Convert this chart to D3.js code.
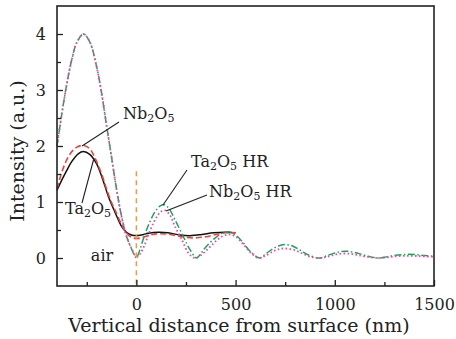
<!DOCTYPE html>
<html>
<head>
<meta charset="utf-8">
<script src="https://cdn.jsdelivr.net/npm/d3@7"></script>
<style>
  body { margin: 0; background: #fff; }
  svg text { font-family: "DejaVu Serif", serif; fill: #222; }
</style>
</head>
<body>
<svg width="456" height="339"></svg>
<script>
// values: [distance (nm), intensity (a.u.)]
const ta2o5 = [[-400,1.21],[-376,1.39],[-350,1.57],[-326,1.72],[-293,1.86],[-267,1.9],[-235,1.85],[-200,1.68],
  [-175,1.46],[-141,1.10],[-108,0.82],[-74,0.56],[-50,0.46],[-25,0.41],[0,0.40],[25,0.41],[60,0.44],[110,0.46],
  [160,0.45],[220,0.41],[279,0.40],[330,0.42],[390,0.45],[447,0.46],[500,0.45]];

const nb2o5 = [[-400,1.24],[-375,1.54],[-350,1.76],[-325,1.9],[-300,1.98],[-267,2.01],[-235,1.95],[-208,1.78],
  [-175,1.5],[-150,1.23],[-125,0.99],[-108,0.86],[-75,0.6],[-50,0.45],[-25,0.37],[0,0.35],[25,0.36],[50,0.39],
  [100,0.43],[150,0.43],[200,0.40],[250,0.37],[300,0.36],[350,0.38],[400,0.42],[450,0.45],[500,0.45]];

const ta2o5HR = [[-400,2.0],[-375,2.59],[-350,3.12],[-325,3.55],[-300,3.85],[-267,4.0],[-235,3.86],[-200,3.41],
  [-175,2.94],[-150,2.36],[-125,1.80],[-100,1.23],[-75,0.75],[-49,0.38],[-24,0.16],[-7,0.03],[0,0.0],[18,0.15],
  [35,0.34],[60,0.58],[93,0.82],[120,0.93],[141,0.95],[165,0.88],[195,0.68],[237,0.38],[270,0.15],[304,0.0],
  [325,0.08],[346,0.18],[388,0.33],[430,0.44],[465,0.47],[500,0.41],[539,0.27],[573,0.12],[623,0.0],[650,0.07],
  [690,0.17],[720,0.22],[755,0.24],[790,0.21],[830,0.13],[870,0.05],[925,0.0],[960,0.04],[1000,0.09],[1030,0.115],
  [1063,0.12],[1100,0.10],[1140,0.06],[1180,0.02],[1228,0.0],[1260,0.02],[1300,0.045],[1340,0.06],[1370,0.065],
  [1410,0.06],[1450,0.045],[1500,0.03]];

const nb2o5HR = [[-400,2.0],[-375,2.59],[-350,3.12],[-325,3.55],[-300,3.85],[-267,4.0],[-235,3.86],[-200,3.41],
  [-175,2.94],[-150,2.36],[-125,1.80],[-100,1.23],[-75,0.75],[-49,0.38],[-24,0.17],[-5,0.04],[5,0.02],[20,0.08],
  [40,0.22],[70,0.5],[100,0.72],[125,0.83],[145,0.85],[170,0.76],[195,0.56],[229,0.33],[262,0.09],[295,0.0],
  [325,0.05],[360,0.16],[400,0.3],[435,0.39],[470,0.42],[505,0.37],[540,0.24],[575,0.1],[615,0.0],[650,0.04],
  [690,0.12],[720,0.16],[749,0.17],[790,0.15],[830,0.09],[870,0.03],[920,0.0],[960,0.02],[1000,0.06],[1051,0.08],
  [1100,0.065],[1150,0.03],[1220,0.0],[1260,0.01],[1300,0.03],[1360,0.04],[1420,0.035],[1500,0.02]];

const xMajorTicks = [0, 500, 1000, 1500];
const xMinorTicks = [-250, 250, 750, 1250];
const yMajorTicks = [0, 1, 2, 3, 4];
const yMinorTicks = [0.5, 1.5, 2.5, 3.5];

const svg = d3.select('svg');
const margin = { top: 6, right: 22, bottom: 53, left: 57 };
const width = 456 - margin.left - margin.right;
const height = 339 - margin.top - margin.bottom;

const x = d3.scaleLinear().domain([-400, 1500]).range([0, width]);
const y = d3.scaleLinear().domain([-0.5, 4.5]).range([height, 0]);

const g = svg.append('g').attr('transform', `translate(${margin.left},${margin.top})`);

const line = d3.line()
  .x(d => x(d[0]))
  .y(d => y(d[1]))
  .curve(d3.curveCatmullRom.alpha(0.5));

const series = [
  { data: ta2o5, color: '#111', dash: null, w: 1.5 },
  { data: nb2o5, color: '#e8453c', dash: '6 3', w: 1.6 },
  { data: ta2o5HR, color: '#1aa35a', dash: '7 2.5 1.5 2.5', w: 1.5 },
  { data: nb2o5HR, color: '#ec4aa6', dash: '1.6 2.4', w: 1.8 }
];

g.selectAll('.curve')
  .data(series)
  .enter().append('path')
  .attr('class', 'curve')
  .attr('d', d => line(d.data))
  .attr('fill', 'none')
  .attr('stroke', d => d.color)
  .attr('stroke-width', d => d.w)
  .attr('stroke-dasharray', d => d.dash);

// surface marker
g.append('line')
  .attr('x1', x(0)).attr('x2', x(0))
  .attr('y1', y(1.55)).attr('y2', y(-0.5))
  .attr('stroke', '#f39a3a')
  .attr('stroke-width', 1.5)
  .attr('stroke-dasharray', '5 4');

// axes: ticks point inward
g.append('g')
  .attr('transform', `translate(0,${height})`)
  .call(d3.axisBottom(x).tickValues(xMajorTicks).tickFormat(d3.format('d'))
    .tickSizeInner(-6).tickSizeOuter(0).tickPadding(13));
g.append('g')
  .attr('transform', `translate(0,${height})`)
  .call(d3.axisBottom(x).tickValues(xMinorTicks).tickSizeInner(-4).tickSizeOuter(0).tickFormat(''));
g.append('g')
  .call(d3.axisLeft(y).tickValues(yMajorTicks).tickFormat(d3.format('d'))
    .tickSizeInner(-6).tickSizeOuter(0).tickPadding(11));
g.append('g')
  .call(d3.axisLeft(y).tickValues(yMinorTicks).tickSizeInner(-4).tickSizeOuter(0).tickFormat(''));

g.selectAll('.tick line').attr('stroke', '#222').attr('stroke-width', 1.3);
g.selectAll('.tick text').style('font-size', '16px').attr('fill', '#222');
g.selectAll('.domain').remove();

g.append('rect')
  .attr('width', width).attr('height', height)
  .attr('fill', 'none')
  .attr('stroke', '#222')
  .attr('stroke-width', 1.6);

// annotations
function chem(sel, parts) {
  parts.forEach((p, i) => {
    const t = sel.append('tspan').text(p[0]);
    if (p[1]) t.style('font-size', '11px').attr('dy', 3);
    else if (i > 0) t.attr('dy', -3);
  });
  return sel;
}

const labels = [
  { x: 123, y: 119, parts: [['Nb'], ['2', 1], ['O'], ['5', 1]], from: [82, 146], to: [119, 122] },
  { x: 65, y: 214, parts: [['Ta'], ['2', 1], ['O'], ['5', 1]], from: [94, 158], to: [82, 203] },
  { x: 191, y: 167, parts: [['Ta'], ['2', 1], ['O'], ['5', 1], [' HR']], from: [163, 205], to: [187, 170] },
  { x: 209, y: 197, parts: [['Nb'], ['2', 1], ['O'], ['5', 1], [' HR']], from: [166, 211], to: [207, 195] }
];

labels.forEach(l => {
  svg.append('line')
    .attr('x1', l.from[0]).attr('y1', l.from[1])
    .attr('x2', l.to[0]).attr('y2', l.to[1])
    .attr('stroke', '#222').attr('stroke-width', 1.1);
  chem(svg.append('text').attr('x', l.x).attr('y', l.y).style('font-size', '16px'), l.parts);
});

svg.append('text')
  .attr('x', 102).attr('y', 261)
  .style('text-anchor', 'middle').style('font-size', '16px')
  .text('air');

// axis titles
svg.append('text')
  .attr('x', 239).attr('y', 332)
  .style('text-anchor', 'middle').style('font-size', '19px')
  .text('Vertical distance from surface (nm)');

svg.append('text')
  .attr('transform', 'rotate(-90)')
  .attr('x', -151).attr('y', 24)
  .style('text-anchor', 'middle').style('font-size', '19px')
  .text('Intensity (a.u.)');
</script>
</body>
</html>
